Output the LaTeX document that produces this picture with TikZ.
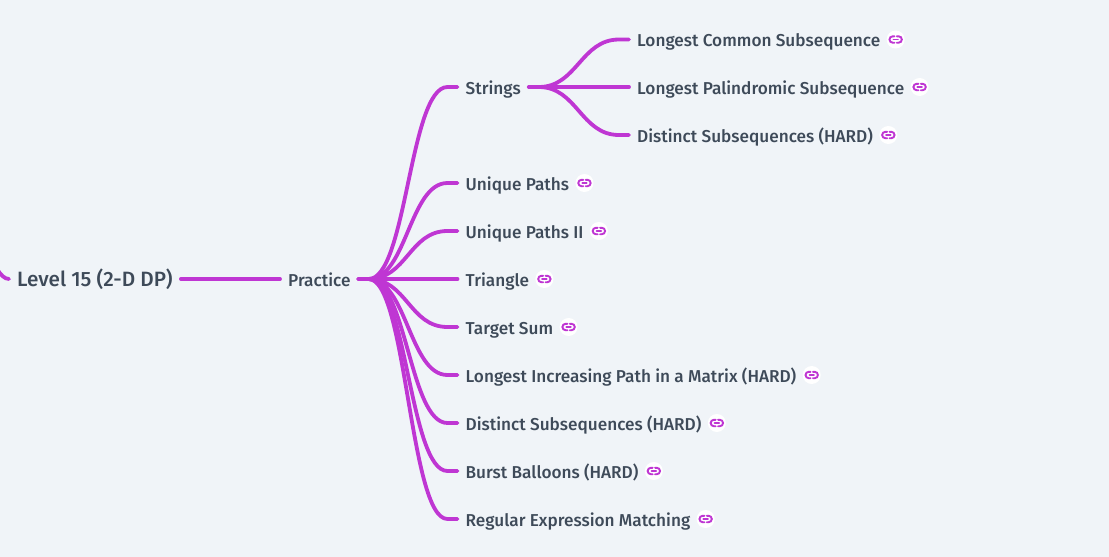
\documentclass[tikz,border=0pt]{standalone}
\usepackage{fontspec}
\setmainfont{Fira Sans Medium}
\definecolor{bgc}{HTML}{F0F4F8}
\definecolor{linkc}{HTML}{BF36D3}
\definecolor{textc}{HTML}{3E4A59}
\tikzset{
  every node/.style={font=\fontsize{17.2}{19}\selectfont, text=textc},
  topic/.style={inner xsep=8pt, inner ysep=0pt, text height=15pt, text depth=1pt},
  rootic/.style={topic, font=\fontsize{20.7}{22}\selectfont},
  linkdot/.style={circle, fill=white, minimum size=18pt, inner sep=0pt},
  branch/.style={draw=linkc, line width=3.8pt, line cap=round},
  chain/.style={draw=linkc, line width=1.9pt, line cap=round},
}
\newcommand{\curve}[2]{%
  \draw[branch] (#1) -- ++(10pt,0pt) .. controls +(38pt,0pt) and ($(#2)+(-48pt,0pt)$) .. ($(#2)+(-10pt,0pt)$) -- (#2);}
\newcommand{\leaf}[4]{% name, y, x of text-start, text; link icon placed right after
  \node[topic, anchor=west] (#1) at (#3,#2) {#4};
  \node[linkdot, right=0pt of #1.east, xshift=-2pt] (#1i) {};
  \draw[chain] ([xshift=-1.2pt,yshift=3.2pt]#1i.center) -- ++(-1.8pt,0) arc (90:270:3.2pt) -- ++(1.8pt,0);
  \draw[chain] ([xshift=1.2pt,yshift=3.2pt]#1i.center) -- ++(1.8pt,0) arc (90:-90:3.2pt) -- ++(-1.8pt,0);
  \draw[chain] ([xshift=-2.2pt]#1i.center) -- ([xshift=2.2pt]#1i.center);
}
\usetikzlibrary{positioning,calc}
\begin{document}
\begin{tikzpicture}[x=1pt,y=-1pt]
\useasboundingbox (0,0) rectangle (1109,557);
\clip (0,0) rectangle (1109,557);
\fill[bgc] (0,0) rectangle (1109,557);
\node[rootic, anchor=west] (level) at (9,279) {Level 15 (2-D DP)};
\node[topic, anchor=west] (practice) at (280,279) {Practice};
\node[topic, anchor=west] (strings) at (457.5,87) {Strings};
\coordinate (offl) at (-12,255);
\draw[branch] (offl) .. controls (-6,262) and (0,279) .. (level.west);
\draw[branch] (level.east) -- (practice.west);
\leaf{lcs}{39.5}{629}{Longest Common Subsequence}
\leaf{lps}{87}{629}{Longest Palindromic Subsequence}
\leaf{ds}{135}{629}{Distinct Subsequences (HARD)}
\leaf{up}{183}{457.5}{Unique Paths}
\leaf{upii}{231}{457.5}{Unique Paths II}
\leaf{tri}{279}{457.5}{Triangle}
\leaf{ts}{327}{457.5}{Target Sum}
\leaf{lip}{375}{457.5}{Longest Increasing Path in a Matrix (HARD)}
\leaf{dsb}{423}{457.5}{Distinct Subsequences (HARD)}
\leaf{bb}{471}{457.5}{Burst Balloons (HARD)}
\leaf{rem}{519}{457.5}{Regular Expression Matching}
\foreach \t in {strings,up,upii,ts,lip,dsb,bb,rem}{\curve{practice.east}{\t.west}}
\draw[branch] (practice.east) -- (tri.west);
\foreach \t in {lcs,ds}{\curve{strings.east}{\t.west}}
\draw[branch] (strings.east) -- (lps.west);
\end{tikzpicture}
\end{document}
